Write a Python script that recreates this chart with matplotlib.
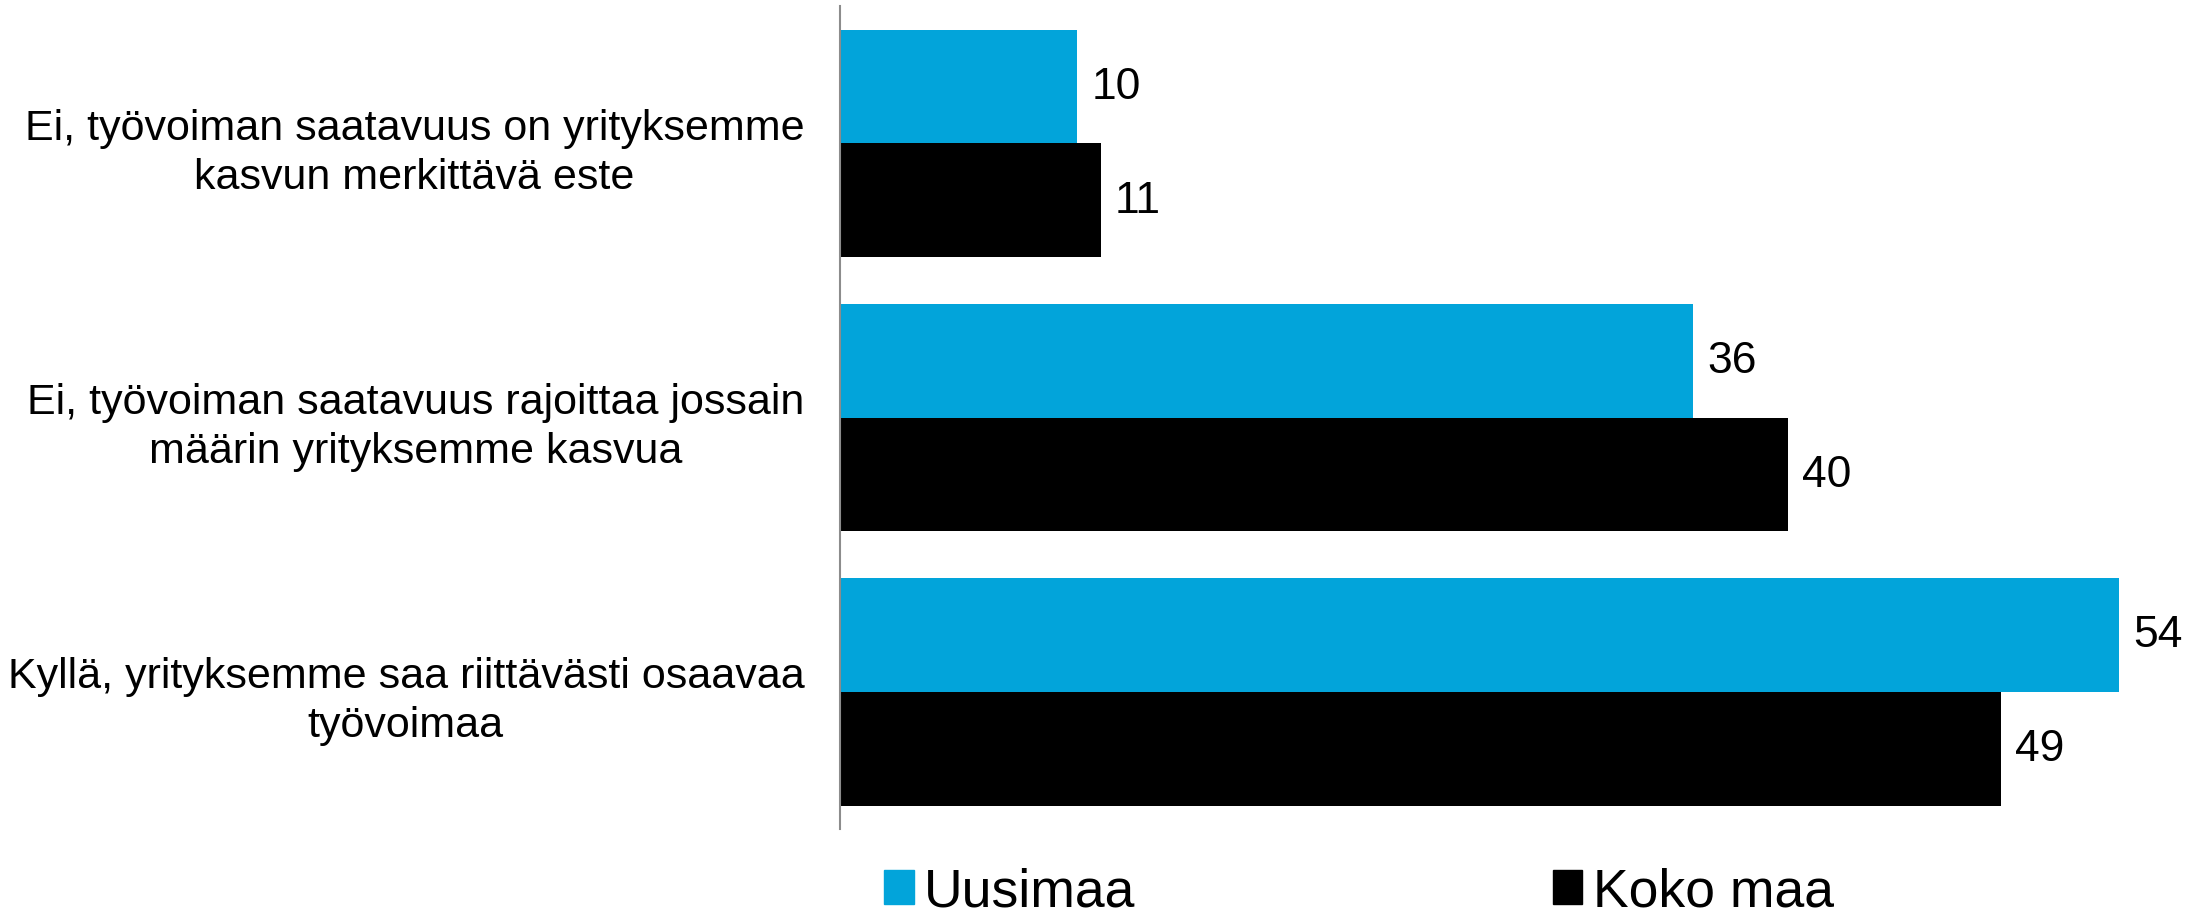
import numpy as np
import matplotlib.pyplot as plt
from matplotlib.patches import Patch

plt.rcParams['font.family'] = ['Liberation Sans', 'DejaVu Sans']

categories = [
    "Ei, työvoiman saatavuus on yrityksemme\nkasvun merkittävä este",
    "Ei, työvoiman saatavuus rajoittaa jossain\nmäärin yrityksemme kasvua",
    "Kyllä, yrityksemme saa riittävästi osaavaa\ntyövoimaa",
]
uusimaa = [10, 36, 54]
koko_maa = [11, 40, 49]
series_names = ["Uusimaa", "Koko maa"]
colors = ["#02A4DA", "#000000"]

fig = plt.figure(figsize=(22, 9.2), dpi=100)
ax = fig.add_axes([0.382, 0.098, 0.618, 0.894])

y = np.arange(len(categories))
h = 0.415

b1 = ax.barh(y - h / 2, uusimaa, height=h, color=colors[0])
b2 = ax.barh(y + h / 2, koko_maa, height=h, color=colors[1])

for bars, vals in ((b1, uusimaa), (b2, koko_maa)):
    for bar, v in zip(bars, vals):
        ax.annotate(str(v), (bar.get_width(), bar.get_y() + bar.get_height() / 2),
                    xytext=(10, 0), textcoords='offset points',
                    va='center', ha='left', fontsize=32)

ax.set_ylim(2.5, -0.5)
ax.set_xlim(0, 57.4)
ax.set_yticks(y)
ax.set_yticklabels(categories, fontsize=31, multialignment='center', linespacing=1.28)
ax.tick_params(axis='y', length=0, pad=26)
ax.set_xticks([])
for s in ['top', 'right', 'bottom']:
    ax.spines[s].set_visible(False)
ax.spines['left'].set_color('#8c8c8c')
ax.spines['left'].set_linewidth(1.5)

handles = [Patch(color=c) for c in colors]
fig.legend(handles, series_names, loc='lower left', bbox_to_anchor=(0.38, -0.05),
           ncol=2, frameon=False, fontsize=38.5, handlelength=0.55, handleheight=0.6,
           handletextpad=0.2, columnspacing=7.8)

fig.savefig('out.png', dpi=100)
